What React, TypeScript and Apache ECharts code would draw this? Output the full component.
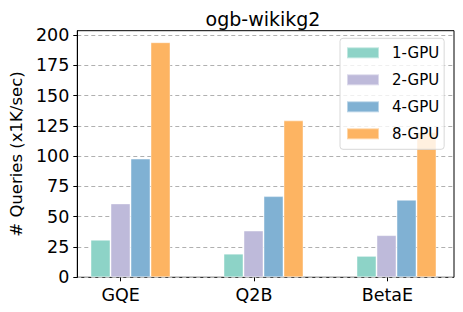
import React, { useEffect, useRef } from "react";
import * as echarts from "echarts";

const categories = ["GQE", "Q2B", "BetaE"];
const seriesNames = ["1-GPU", "2-GPU", "4-GPU", "8-GPU"];
const gpu1 = [31, 19.5, 17.7];
const gpu2 = [61, 38.6, 34.8];
const gpu4 = [98, 67, 64];
const gpu8 = [194, 129.5, 120];
const yTicks = [0, 25, 50, 75, 100, 125, 150, 175, 200];
const colors = ["#8dd3c7", "#bebada", "#80b1d3", "#fdb462"];
const Y_MAX = 203.5;

const FONT = "DejaVu Sans";

export default function App() {
  const ref = useRef<HTMLDivElement>(null);
  useEffect(() => {
    if (!ref.current) return;
    const chart = echarts.init(ref.current, undefined, { renderer: "svg" });
    const values = [gpu1, gpu2, gpu4, gpu8];
    const top = 30.7;
    const bottom = 312 - 277.3;
    chart.setOption({
      animation: false,
      backgroundColor: "#fff",
      title: {
        text: "ogb-wikikg2",
        left: 263,
        textAlign: "center",
        top: 9,
        padding: 0,
        textStyle: { fontFamily: FONT, fontSize: 19, fontWeight: "normal", color: "#000" },
      },
      legend: {
        data: seriesNames,
        orient: "vertical",
        left: 340,
        top: 38.3,
        padding: [7, 5, 8, 6],
        itemWidth: 32,
        itemHeight: 11,
        itemGap: 12,
        backgroundColor: "rgba(255,255,255,0.8)",
        borderColor: "#d8d8d8",
        borderWidth: 1,
        borderRadius: 3,
        icon: "rect",
        textStyle: { fontFamily: FONT, fontSize: 15, color: "#000", padding: [0, 0, 0, 8] },
        z: 10,
      },
      grid: [
        { left: 72.7, width: 381.3, top, bottom, show: true, borderColor: "#000", borderWidth: 1, backgroundColor: "transparent" },
        { left: 54, width: 400, top, bottom, show: false },
        { left: 64, width: 400, top, bottom, show: false },
      ],
      xAxis: [
        { gridIndex: 0, type: "value", min: 0, max: 1, show: false },
        {
          gridIndex: 1,
          type: "category",
          data: categories,
          axisLine: { show: false },
          axisTick: { show: true, alignWithLabel: true, length: 4, lineStyle: { color: "#000" } },
          axisLabel: { fontFamily: FONT, fontSize: 17.5, color: "#000", margin: 9 },
          splitLine: { show: false },
        },
        { gridIndex: 2, type: "category", data: categories, show: false },
      ],
      yAxis: [
        {
          gridIndex: 0,
          type: "value",
          min: 0,
          max: Y_MAX,
          axisLine: { show: true, lineStyle: { color: "#000" } },
          axisTick: { show: true, length: 4, lineStyle: { color: "#000" }, customValues: yTicks },
          axisLabel: { fontFamily: FONT, fontSize: 17.5, color: "#000", margin: 8, customValues: yTicks },
          splitLine: { show: true, lineStyle: { color: "#b0b0b0", type: [4, 3], width: 1 } },
          name: "# Queries (x1K/sec)",
          nameLocation: "middle",
          nameGap: 49,
          nameTextStyle: { fontFamily: FONT, fontSize: 16.5, color: "#000" },
        },
        { gridIndex: 1, type: "value", min: 0, max: Y_MAX, show: false },
        { gridIndex: 2, type: "value", min: 0, max: Y_MAX, show: false },
      ],
      series: seriesNames.map((name, i) => ({
        name,
        type: "bar",
        xAxisIndex: 2,
        yAxisIndex: 2,
        data: values[i],
        barWidth: 20,
        barGap: "0%",
        itemStyle: { color: colors[i], borderColor: "rgba(255,255,255,0.45)", borderWidth: 1 },
      })),
    });
    return () => chart.dispose();
  }, []);
  return <div ref={ref} style={{ width: 463, height: 312, position: "absolute", left: 0, top: 0 }} />;
}
